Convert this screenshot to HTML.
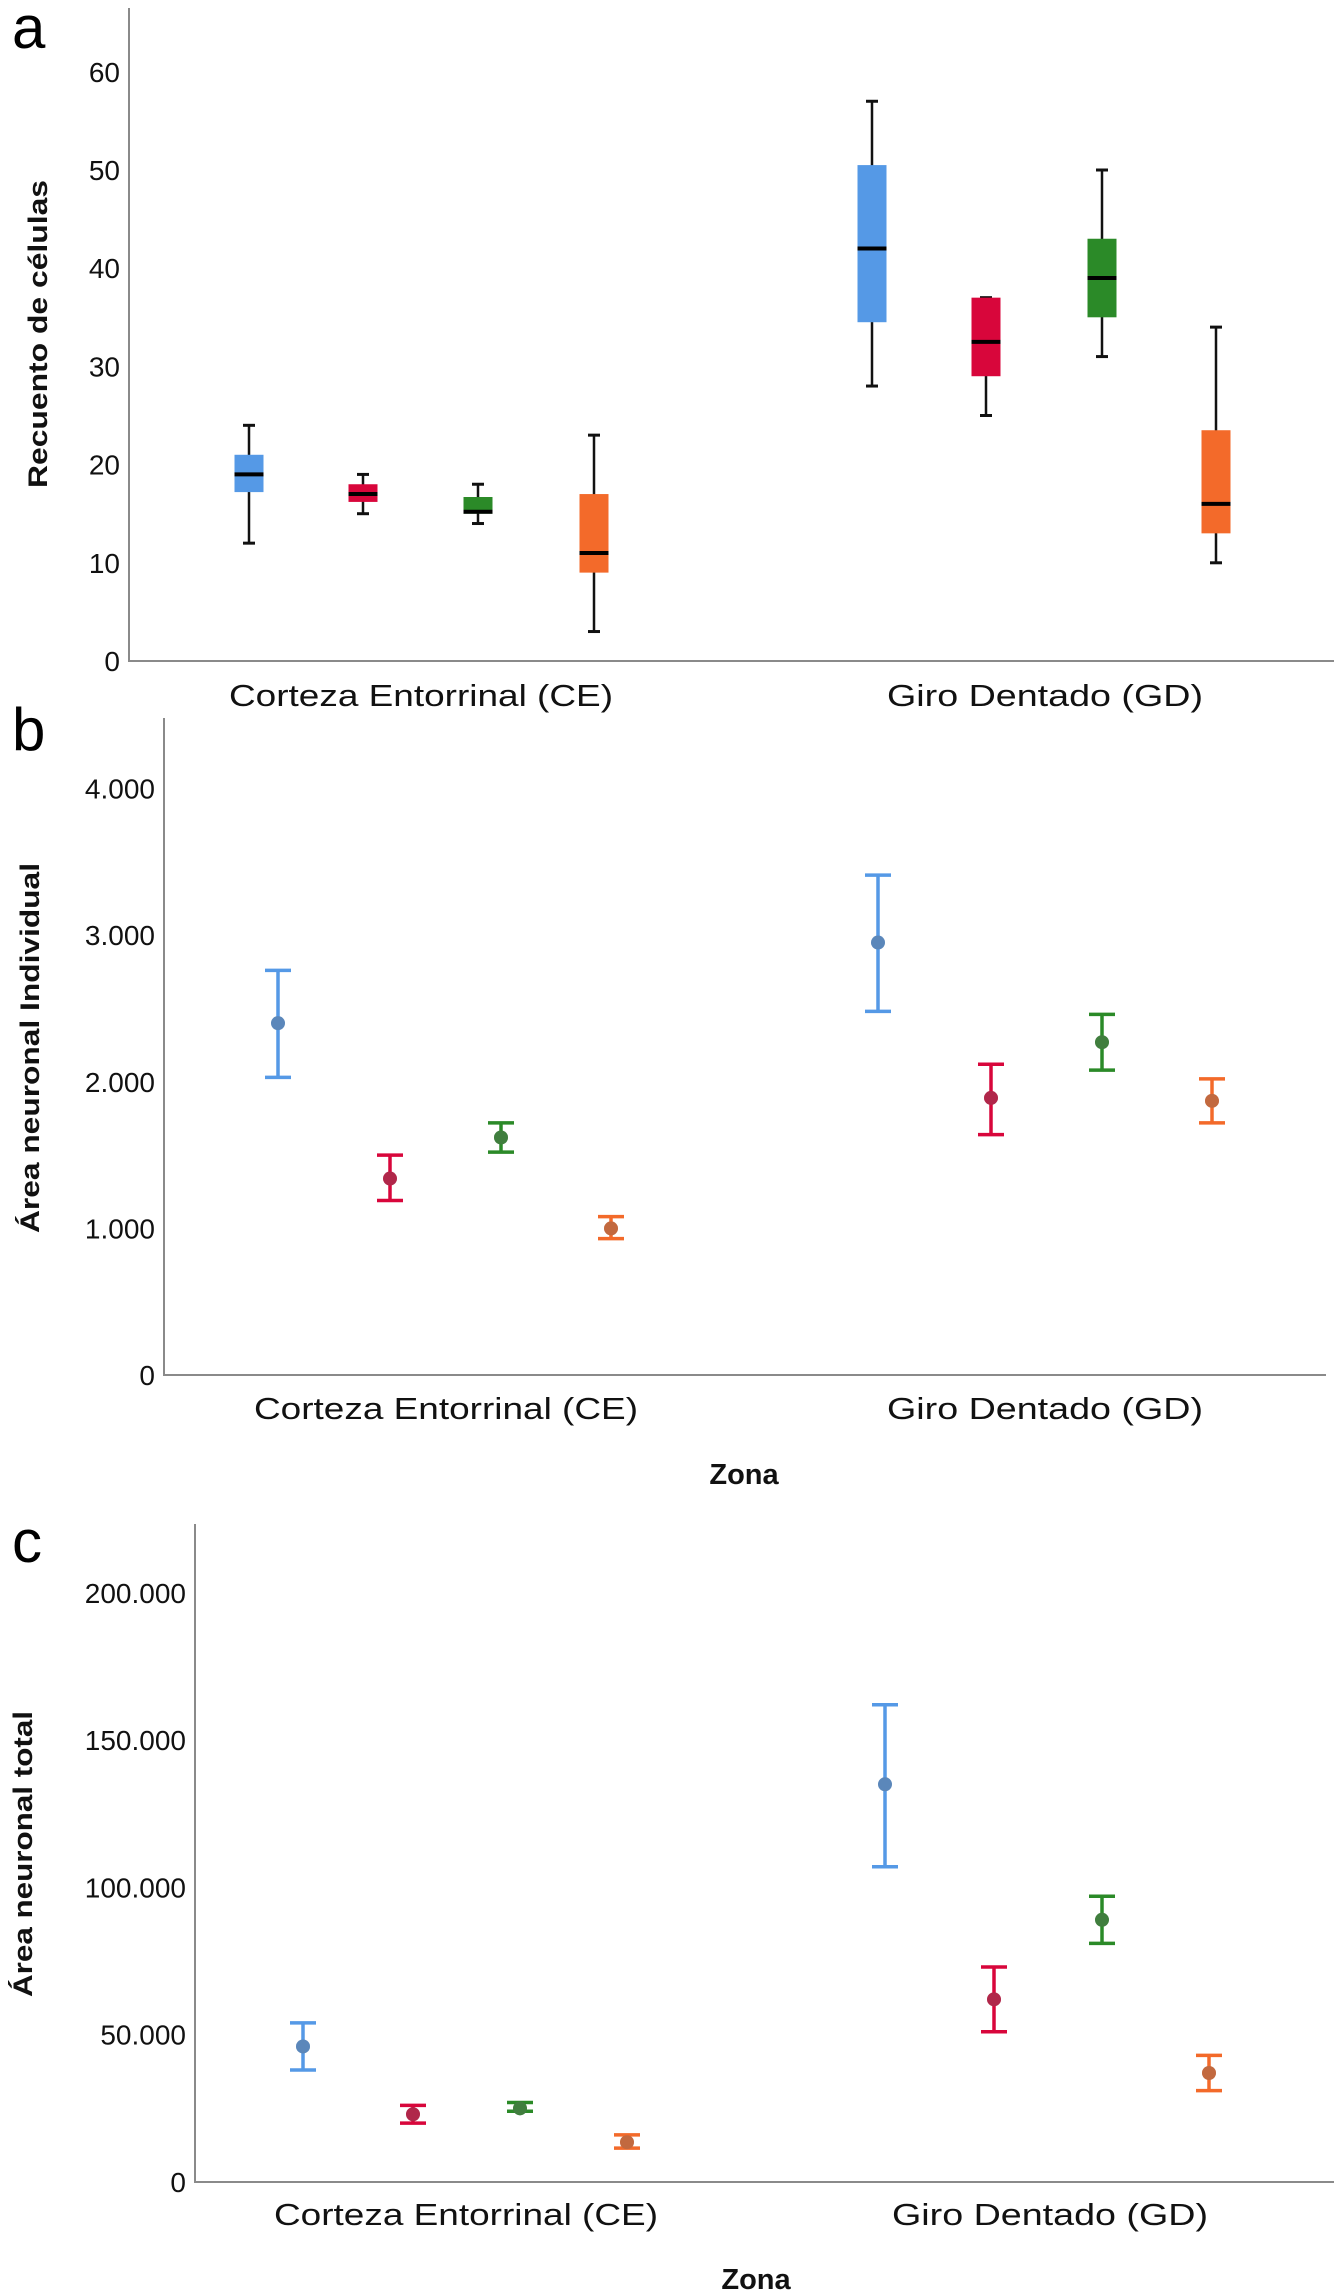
<!DOCTYPE html>
<html><head><meta charset="utf-8"><style>
html,body{margin:0;padding:0;background:#fff;}
svg{display:block;font-family:"Liberation Sans",Arial,sans-serif;}
</style></head><body>
<svg id="fig" width="1341" height="2296" viewBox="0 0 1341 2296" xmlns="http://www.w3.org/2000/svg"></svg>
<script>
const groups = ["Corteza Entorrinal (CE)", "Giro Dentado (GD)"];
const colors = ["#5599e6", "#d8063b", "#2b8a28", "#f36a2a"];
const seriesNames = ["blue", "red", "green", "orange"];
// Panel a: box plots [min, q1, median, q3, max] per group per series
const boxCE = [[12,17.2,19,21,24],[15,16.2,17,18,19],[14,15,15.2,16.7,18],[3,9,11,17,23]];
const boxGD = [[28,34.5,42,50.5,57],[25,29,32.5,37,37],[31,35,39,43,50],[10,13,16,23.5,34]];
const aTicks = [0,10,20,30,40,50,60];
const aTickLabels = ["0","10","20","30","40","50","60"];
// Panel b: mean, low, high
const bMeanCE = [2400,1340,1620,1000];
const bLowCE = [2030,1190,1520,930];
const bHighCE = [2760,1500,1720,1080];
const bMeanGD = [2950,1890,2270,1870];
const bLowGD = [2480,1640,2080,1720];
const bHighGD = [3410,2120,2460,2020];
const bTicks = [0,1000,2000,3000,4000];
const bTickLabels = ["0","1.000","2.000","3.000","4.000"];
// Panel c
const cMeanCE = [46000,23000,25000,13500];
const cLowCE = [38000,20000,24000,11500];
const cHighCE = [54000,26000,27000,16000];
const cMeanGD = [135000,62000,89000,37000];
const cLowGD = [107000,51000,81000,31000];
const cHighGD = [162000,73000,97000,43000];
const cTicks = [0,50000,100000,150000,200000];
const cTickLabels = ["0","50.000","100.000","150.000","200.000"];

const NS="http://www.w3.org/2000/svg";
const svg=document.getElementById('fig');
function mk(tag,attrs,parent){const e=document.createElementNS(NS,tag);for(const k in attrs)e.setAttribute(k,attrs[k]);(parent||svg).appendChild(e);return e;}
function txt(s,attrs,parent){const e=mk('text',attrs,parent);e.textContent=s;return e;}

function axes(p){
  const g=mk('g',{});
  
  
  mk('line',{x1:p.x0,y1:p.top,x2:p.x0,y2:p.y0+1,stroke:'#8a8a8a','stroke-width':2},g);
  mk('line',{x1:p.x0,y1:p.y0,x2:p.x1,y2:p.y0,stroke:'#8a8a8a','stroke-width':2},g);
  p.ticks.forEach((t,i)=>{
    const l=txt(p.tickLabels[i],{x:p.x0-9,y:p.ys(t)+10,'text-anchor':'end','font-size':28,fill:'#111'},g);
    
    
  });
  groups.forEach((gname,i)=>{
    const l=txt(gname,{x:p.labelX[i],y:p.labelY,'text-anchor':'middle','font-size':31,fill:'#111',textLength:p.labelW[i],lengthAdjust:'spacingAndGlyphs'},g);
    
    
  });
  const yt=txt(p.ytitle,{x:0,y:0,transform:`translate(${p.ytx},${p.yty}) rotate(-90)`,'text-anchor':'middle','font-size':27,'font-weight':'bold',fill:'#111',textLength:p.ytw,lengthAdjust:'spacingAndGlyphs'},g);
  
  
  const pl=txt(p.letter,{x:12,y:p.letterY,'font-size':60,fill:'#000'},g);
  
  
  if(p.zonaY){
    const z=txt('Zona',{x:p.zonaX,y:p.zonaY,'text-anchor':'middle','font-size':29,'font-weight':'bold',fill:'#111'},g);
    
    
  }
}

// Panel a
const A={id:'panel-a',x0:129,x1:1334,top:8,y0:661,ys:v=>661-v*9.82,ticks:aTicks,tickLabels:aTickLabels,
  labelX:[421,1045],labelY:706,labelW:[384,316],ytitle:'Recuento de células',ytx:47,yty:334,ytw:308,letter:'a',letterY:48};
axes(A);
const aX=[[249,363,478,594],[872,986,1102,1216]];
[boxCE,boxGD].forEach((data,gi)=>{
  data.forEach((b,si)=>{
    const x=aX[gi][si],w=29,g=mk('g',{});
    
    
    mk('line',{x1:x,x2:x,y1:A.ys(b[0]),y2:A.ys(b[4]),stroke:'#111','stroke-width':2.5},g);
    mk('line',{x1:x-6,x2:x+6,y1:A.ys(b[0]),y2:A.ys(b[0]),stroke:'#111','stroke-width':3},g);
    mk('line',{x1:x-6,x2:x+6,y1:A.ys(b[4]),y2:A.ys(b[4]),stroke:'#111','stroke-width':3},g);
    mk('rect',{x:x-w/2,y:A.ys(b[3]),width:w,height:A.ys(b[1])-A.ys(b[3]),fill:colors[si]},g);
    mk('line',{x1:x-w/2,x2:x+w/2,y1:A.ys(b[2]),y2:A.ys(b[2]),stroke:'#000','stroke-width':4},g);
  });
});

function errPanel(P,xs,sets,name){
  axes(P);
  sets.forEach((s,gi)=>{
    s[0].forEach((m,si)=>{
      const x=xs[gi][si],g=mk('g',{});
      
      
      const c=colors[si],lo=P.ys(s[1][si]),hi=P.ys(s[2][si]);
      mk('line',{x1:x,x2:x,y1:lo,y2:hi,stroke:c,'stroke-width':3.5},g);
      mk('line',{x1:x-13,x2:x+13,y1:lo,y2:lo,stroke:c,'stroke-width':3.5},g);
      mk('line',{x1:x-13,x2:x+13,y1:hi,y2:hi,stroke:c,'stroke-width':3.5},g);
      mk('circle',{cx:x,cy:P.ys(m),r:7,fill:c},g);
      mk('circle',{cx:x,cy:P.ys(m),r:7,fill:'#666','fill-opacity':0.35},g);
    });
  });
}
const B={id:'panel-b',x0:164,x1:1326,top:718,y0:1375,ys:v=>1375-v*0.1466,ticks:bTicks,tickLabels:bTickLabels,
  labelX:[446,1045],labelY:1419,labelW:[384,316],ytitle:'Área neuronal Individual',ytx:39,yty:1048,ytw:370,letter:'b',letterY:750,zonaX:744,zonaY:1484};
errPanel(B,[[278,390,501,611],[878,991,1102,1212]],[[bMeanCE,bLowCE,bHighCE],[bMeanGD,bLowGD,bHighGD]],'panel-b');
const C={id:'panel-c',x0:195,x1:1334,top:1524,y0:2182,ys:v=>2182-v*0.002946,ticks:cTicks,tickLabels:cTickLabels,
  labelX:[466,1050],labelY:2225,labelW:[384,316],ytitle:'Área neuronal total',ytx:32,yty:1854,ytw:286,letter:'c',letterY:1562,zonaX:756,zonaY:2289};
errPanel(C,[[303,413,520,627],[885,994,1102,1209]],[[cMeanCE,cLowCE,cHighCE],[cMeanGD,cLowGD,cHighGD]],'panel-c');
</script>
</body></html>
